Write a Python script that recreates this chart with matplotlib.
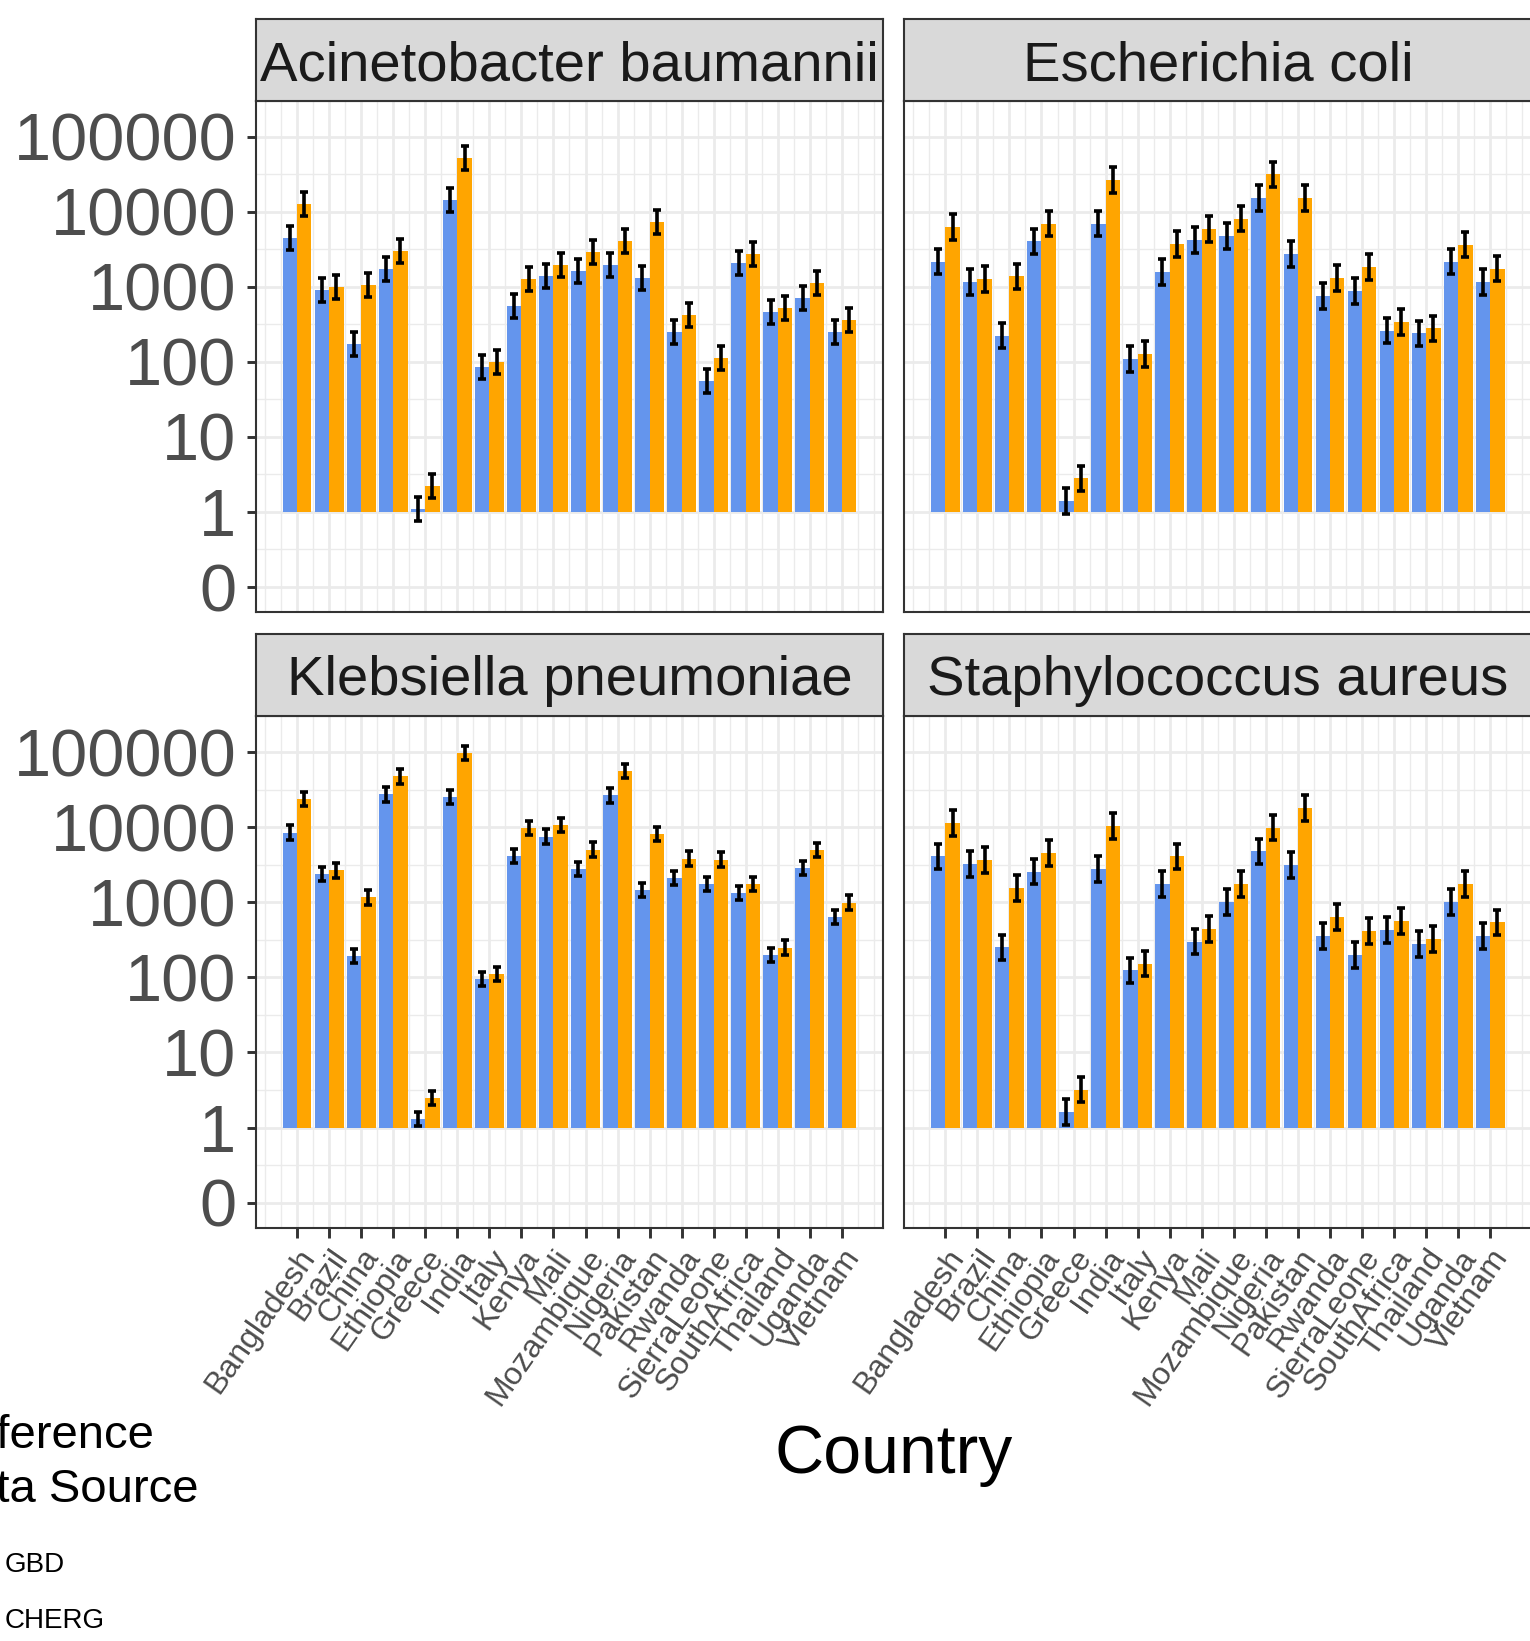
import numpy as np
import matplotlib
matplotlib.use("Agg")
import matplotlib.pyplot as plt
from matplotlib.ticker import FixedLocator, NullFormatter

plt.rcParams['font.family'] = ['Liberation Sans', 'DejaVu Sans']

# --- datos ---
paises = ["Bangladesh", "Brazil", "China", "Ethiopia", "Greece", "India", "Italy",
          "Kenya", "Mali", "Mozambique", "Nigeria", "Pakistan", "Rwanda",
          "SierraLeone", "SouthAfrica", "Thailand", "Uganda", "Vietnam"]

patogenos = ["Acinetobacter baumannii", "Escherichia coli",
             "Klebsiella pneumoniae", "Staphylococcus aureus"]

gbd_acineto = [4460, 910, 175, 1750, 1.1, 14300, 86, 550, 1410, 1630, 1980, 1320,
               250, 55, 2050, 455, 700, 250]
cherg_acineto = [12600, 990, 1060, 3030, 2.2, 52800, 100, 1280, 1980, 2910, 4100, 7340,
                 420, 114, 2710, 530, 1140, 365]

gbd_ecoli = [2160, 1160, 223, 4040, 1.4, 6950, 110, 1580, 4210, 4720, 15200, 2750,
             760, 880, 261, 240, 2160, 1160]
cherg_ecoli = [6250, 1270, 1380, 6950, 2.8, 26400, 128, 3720, 5940, 8120, 31500, 15200,
               1310, 1850, 338, 280, 3640, 1750]

gbd_kleb = [8470, 2390, 192, 27300, 1.3, 25400, 96, 4140, 7480, 2790, 26500, 1450,
            2110, 1750, 1320, 198, 2880, 634]
cherg_kleb = [23900, 2650, 1160, 47400, 2.5, 98000, 112, 9690, 10800, 5040, 55400, 8130,
              3810, 3700, 1750, 249, 4940, 990]

gbd_staph = [4080, 3210, 250, 2550, 1.6, 2750, 124, 1750, 300, 1000, 4770, 3110,
             353, 199, 430, 277, 1000, 353]
cherg_staph = [11450, 3640, 1550, 4530, 3.2, 10300, 152, 4080, 444, 1750, 9890, 17900,
               632, 417, 564, 324, 1750, 541]

# semiancho de las barras de error (en décadas log10), por panel
err_dex = [0.16, 0.17, 0.095, 0.17]

gbd_series = [gbd_acineto, gbd_ecoli, gbd_kleb, gbd_staph]
cherg_series = [cherg_acineto, cherg_ecoli, cherg_kleb, cherg_staph]

# --- figura ---
W, H = 1530, 1641
fig = plt.figure(figsize=(W / 100, H / 100), dpi=100)


def ejes_px(x0, y0, x1, y1):
    return fig.add_axes([x0 / W, 1 - y1 / H, (x1 - x0) / W, (y1 - y0) / H])


paneles = [(256, 100.7, 883.3, 612.3), (904.3, 100.7, 1531.6, 612.3),
           (256, 716, 883.3, 1228), (904.3, 716, 1531.6, 1228)]
tiras = [(256, 19, 883.3, 100.7), (904.3, 19, 1531.6, 100.7),
         (256, 634, 883.3, 716), (904.3, 634, 1531.6, 716)]

azul = "#6495ED"
naranja = "#FFA500"
borde = "#333333"
gris_txt = "#4D4D4D"
rejilla = "#EBEBEB"

x = np.arange(len(paises))
ancho = 0.45

for i, nombre in enumerate(patogenos):
    ax = ejes_px(*paneles[i])
    ax.set_yscale('log')
    ax.set_ylim(10 ** -1.337, 10 ** 5.48)
    ax.set_xlim(-1.28, len(paises) - 1 + 1.29)

    for serie, dx, color in [(gbd_series[i], -ancho / 2, azul),
                             (cherg_series[i], ancho / 2, naranja)]:
        v = np.array(serie, dtype=float)
        ax.bar(x + dx, v - 1, bottom=1, width=ancho, color=color, zorder=2)
        f = 10 ** err_dex[i]
        yerr = [v - v / f, v * f - v]
        ax.errorbar(x + dx, v, yerr=yerr, fmt='none', ecolor='black',
                    elinewidth=2.6, capsize=2.6, capthick=2.6, zorder=3)

    # rejilla
    ax.yaxis.set_major_locator(FixedLocator([10.0 ** k for k in range(-1, 6)]))
    ax.yaxis.set_minor_locator(FixedLocator([10.0 ** (k + 0.5) for k in range(-2, 6)]))
    ax.yaxis.set_minor_formatter(NullFormatter())
    ax.xaxis.set_major_locator(FixedLocator(x))
    menores = [m for m in np.arange(-1, len(paises) + 0.6, 0.5) if not (0 <= m <= 17 and m == int(m))]
    ax.xaxis.set_minor_locator(FixedLocator(menores))
    ax.grid(which='major', color=rejilla, lw=2.0, zorder=0)
    ax.grid(which='minor', color=rejilla, lw=1.0, zorder=0)
    ax.set_axisbelow(True)
    ax.tick_params(which='minor', length=0)

    for s in ax.spines.values():
        s.set_color(borde)
        s.set_linewidth(1.5)

    izquierda = i in (0, 2)
    abajo = i in (2, 3)
    if izquierda:
        ax.set_yticklabels(["0", "1", "10", "100", "1000", "10000", "100000"])
        ax.tick_params(axis='y', which='major', length=6.7, width=2.1, color=borde,
                       labelsize=48, labelcolor=gris_txt, pad=7.5)
    else:
        ax.tick_params(axis='y', which='major', length=0, labelleft=False)
    if abajo:
        ax.set_xticklabels(paises, rotation=55, ha='right', va='top',
                           rotation_mode='anchor')
        ax.tick_params(axis='x', which='major', length=7.2, width=2.1, color=borde,
                       labelsize=23, labelcolor=gris_txt, pad=4)
    else:
        ax.tick_params(axis='x', which='major', length=0, labelbottom=False)

    # tira del facet
    st = ejes_px(*tiras[i])
    st.set_facecolor("#D9D9D9")
    st.set_xticks([])
    st.set_yticks([])
    for s in st.spines.values():
        s.set_color(borde)
        s.set_linewidth(1.5)
    st.text(0.5, 0.253, nombre, ha='center', va='baseline', fontsize=40.5,
            color="#1A1A1A", transform=st.transAxes)

# título del eje x
fig.text(893.8 / W, 1 - 1473 / H, "Country", ha='center', va='baseline',
         fontsize=49, color='black')

# leyenda (recortada por el borde izquierdo, como en la imagen original)
fig.text(-64 / W, 1 - 1448 / H, "Reference", ha='left', va='baseline', fontsize=34)
fig.text(-64 / W, 1 - 1501.7 / H, "Data Source", ha='left', va='baseline', fontsize=34)
fig.text(5 / W, 1 - 1571.7 / H, "GBD", ha='left', va='baseline', fontsize=20)
fig.text(5 / W, 1 - 1628.3 / H, "CHERG", ha='left', va='baseline', fontsize=20)

fig.savefig("out.png", dpi=100)
